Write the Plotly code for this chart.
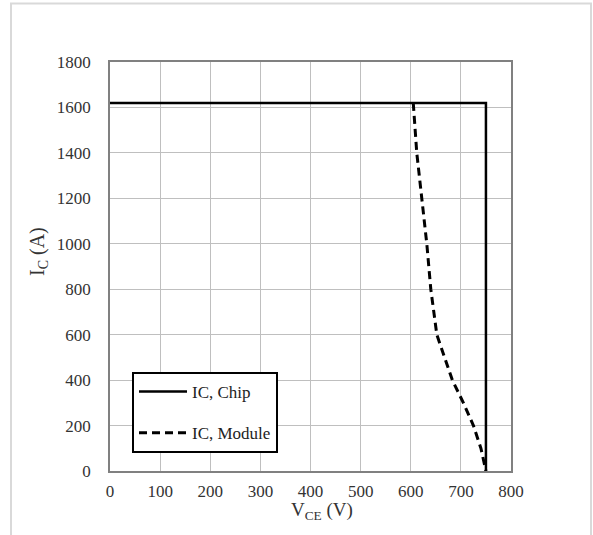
import plotly.graph_objects as go

# Data
chip_v = [0, 750, 750]
chip_i = [1620, 1620, 0]
module_v = [605, 612, 622, 632, 640, 652, 683, 705, 725, 740, 750]
module_i = [1620, 1400, 1200, 1000, 800, 600, 400, 300, 200, 100, 0]

x_ticks = [0, 100, 200, 300, 400, 500, 600, 700, 800]
y_ticks = [0, 200, 400, 600, 800, 1000, 1200, 1400, 1600, 1800]

FONT = "Liberation Serif, Times New Roman, serif"

fig = go.Figure()
fig.add_trace(go.Scatter(
    x=chip_v, y=chip_i, mode="lines", name="IC, Chip",
    line=dict(color="black", width=2.5), legendgroup="a"))
fig.add_trace(go.Scatter(
    x=module_v, y=module_i, mode="lines", name="IC, Module",
    line=dict(color="black", width=3, dash="8px,5px"), legendgroup="b"))

W, H = 593, 535
L, R, T, B = 110, 511, 62, 471
pw, ph = R - L, B - T

def px2paper(x, y):
    return (x - L) / pw, (B - y) / ph

fig.update_layout(
    width=W, height=H,
    margin=dict(l=L, r=W - R, t=T, b=H - B, pad=0),
    paper_bgcolor="white", plot_bgcolor="white",
    font=dict(family=FONT, size=17, color="#333333"),
    showlegend=True,
    legend=dict(
        x=px2paper(132, 0)[0], y=px2paper(0, 372)[1],
        xanchor="left", yanchor="top",
        bordercolor="black", borderwidth=2, bgcolor="white",
        font=dict(family=FONT, size=17, color="#222222"),
        itemwidth=48, tracegroupgap=16,
    ),
    xaxis=dict(
        range=[0, 800], tickvals=x_ticks, ticktext=[str(v) for v in x_ticks],
        showgrid=True, gridcolor="#bfbfbf", gridwidth=1,
        showline=True, linecolor="#808080", linewidth=1.5, mirror=True,
        zeroline=False, ticks="", ticklabelstandoff=4,
        tickfont=dict(family=FONT, size=17, color="#333333"),
    ),
    yaxis=dict(
        range=[0, 1800], tickvals=y_ticks, ticktext=[str(v) for v in y_ticks],
        showgrid=True, gridcolor="#bfbfbf", gridwidth=1,
        showline=True, linecolor="#808080", linewidth=1.5, mirror=True,
        zeroline=False, ticks="", ticklabelstandoff=14,
        tickfont=dict(family=FONT, size=17, color="#333333"),
    ),
)

# Axis titles
ax, ay = px2paper(322, 511)
fig.add_annotation(text="V<sub>CE</sub> (V)", x=ax, y=ay, xref="paper", yref="paper",
                   showarrow=False, xanchor="center", yanchor="middle",
                   font=dict(family=FONT, size=19, color="#333333"))
bx, by = px2paper(38, 252)
fig.add_annotation(text="I<sub>C</sub> (A)", x=bx, y=by, xref="paper", yref="paper",
                   showarrow=False, xanchor="center", yanchor="middle", textangle=-90,
                   font=dict(family=FONT, size=20, color="#333333"))

# Outer chart-area border
x0, y0 = px2paper(11, 545)
x1, y1 = px2paper(591, 3.5)
fig.add_shape(type="rect", xref="paper", yref="paper", x0=x0, y0=y0, x1=x1, y1=y1,
              line=dict(color="#d9d9d9", width=2), fillcolor="rgba(0,0,0,0)", layer="below")

fig.write_html("out.html", config={"displayModeBar": False},
               post_script="document.body.style.margin='0';document.body.style.overflow='hidden';")
